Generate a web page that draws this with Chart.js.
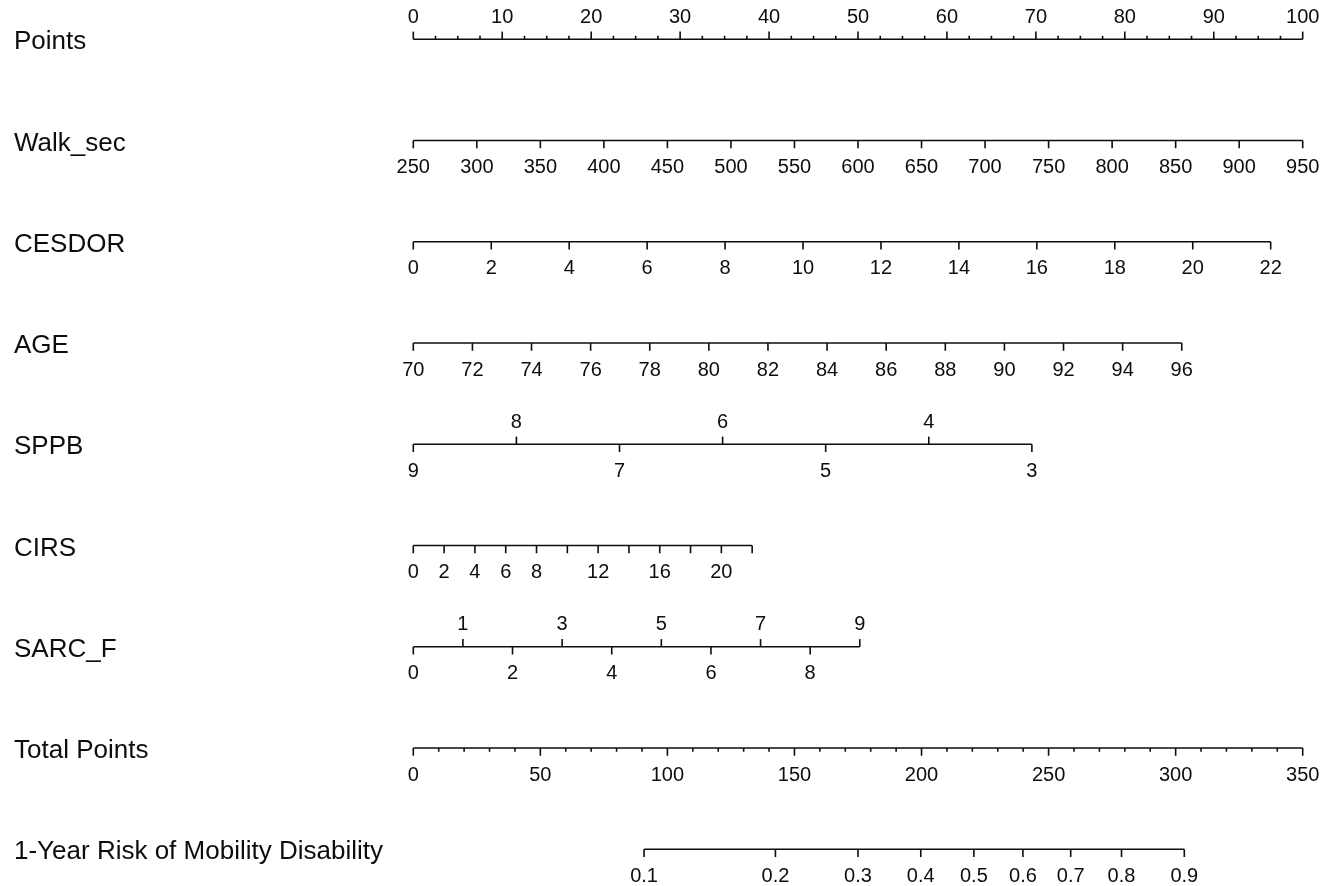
<!doctype html>
<html>
<head>
	<title>Nomogram: 1-Year Risk of Mobility Disability</title>
	<script src="https://cdn.jsdelivr.net/npm/chart.js@4"></script>
	<style>
		body { margin: 0; background: #fff; }
	</style>
</head>
<body>
	<canvas id="chart-area" width="1324" height="886"></canvas>

	<script>
		// row titles, top to bottom
		const rowNames = ['Points', 'Walk_sec', 'CESDOR', 'AGE', 'SPPB', 'CIRS', 'SARC_F', 'Total Points', '1-Year Risk of Mobility Disability'];

		// Points scale
		const pointsTicks = [0, 10, 20, 30, 40, 50, 60, 70, 80, 90, 100];

		// each predictor: tick values and the points at its first / last tick
		const walkSecTicks = [250, 300, 350, 400, 450, 500, 550, 600, 650, 700, 750, 800, 850, 900, 950];
		const walkSecPts = [0, 100];

		const cesdorTicks = [0, 2, 4, 6, 8, 10, 12, 14, 16, 18, 20, 22];
		const cesdorPts = [0, 96.4];

		const ageTicks = [70, 72, 74, 76, 78, 80, 82, 84, 86, 88, 90, 92, 94, 96];
		const agePts = [0, 86.4];

		const sppbTicks = [9, 8, 7, 6, 5, 4, 3];
		const sppbPts = [0, 69.55];

		const cirsTicks = [0, 2, 4, 6, 8, 10, 12, 14, 16, 18, 20, 22];
		const cirsLabels = ['0', '2', '4', '6', '8', '', '12', '', '16', '', '20', ''];
		const cirsPts = [0, 38.1];

		const sarcTicks = [0, 1, 2, 3, 4, 5, 6, 7, 8, 9];
		const sarcPts = [0, 50.2];

		// total points scale
		const totalTicks = [0, 50, 100, 150, 200, 250, 300, 350];
		const totalMax = 350;

		// risk ticks and where they sit on the total points scale
		const riskTicks = [0.1, 0.2, 0.3, 0.4, 0.5, 0.6, 0.7, 0.8, 0.9];
		const riskTotal = [90.8, 142.5, 175.0, 199.7, 220.6, 239.9, 258.7, 278.7, 303.4];

		const FONT = '"Liberation Sans", Arial, sans-serif';
		const INK = '#0d0d0d';

		function lin(v, v0, v1, p0, p1) {
			return p0 + (v - v0) / (v1 - v0) * (p1 - p0);
		}

		function scaleRow(ticks, pts, labels, sideFn) {
			const v0 = ticks[0], v1 = ticks[ticks.length - 1];
			return ticks.map((v, i) => ({
				p: lin(v, v0, v1, pts[0], pts[1]),
				label: labels ? labels[i] : String(v),
				side: sideFn ? sideFn(i) : 'down',
				len: 7.7
			}));
		}

		// build the rows (y index = row number)
		const rows = [];

		const pTicks = pointsTicks.map(v => ({ p: v, label: String(v), side: 'up', len: 7.7 }));
		for (let v = 2.5; v < 100; v += 2.5) {
			if (v % 10 !== 0) pTicks.push({ p: v, label: '', side: 'up', len: 3.5 });
		}
		rows.push(pTicks);
		rows.push(scaleRow(walkSecTicks, walkSecPts));
		rows.push(scaleRow(cesdorTicks, cesdorPts));
		rows.push(scaleRow(ageTicks, agePts));
		rows.push(scaleRow(sppbTicks, sppbPts, null, i => (i % 2 ? 'up' : 'down')));
		rows.push(scaleRow(cirsTicks, cirsPts, cirsLabels));
		rows.push(scaleRow(sarcTicks, sarcPts, null, i => (i % 2 ? 'up' : 'down')));

		const tTicks = totalTicks.map(v => ({ p: v / totalMax * 100, label: String(v), side: 'down', len: 7.7 }));
		for (let v = 10; v < totalMax; v += 10) {
			if (v % 50 !== 0) tTicks.push({ p: v / totalMax * 100, label: '', side: 'down', len: 3.7 });
		}
		rows.push(tTicks);
		rows.push(riskTicks.map((r, i) => ({ p: riskTotal[i] / totalMax * 100, label: String(r), side: 'down', len: 7.7 })));

		const datasets = rows.map((ticks, i) => {
			const ps = ticks.map(t => t.p);
			return {
				label: rowNames[i],
				data: [{ x: Math.min(...ps), y: i }, { x: Math.max(...ps), y: i }],
				showLine: true,
				borderColor: INK,
				borderWidth: 1.6,
				pointRadius: 0,
				clip: false
			};
		});

		const nomogramPlugin = {
			id: 'nomogram',
			afterDatasetsDraw(chart) {
				const ctx = chart.ctx;
				const xs = chart.scales.x, ys = chart.scales.y;
				ctx.save();
				ctx.strokeStyle = INK;
				ctx.fillStyle = INK;
				ctx.lineWidth = 1.6;
				rows.forEach((ticks, i) => {
					const y = ys.getPixelForValue(i);
					ticks.forEach(t => {
						const x = xs.getPixelForValue(t.p);
						const dir = t.side === 'up' ? -1 : 1;
						ctx.beginPath();
						ctx.moveTo(x, y);
						ctx.lineTo(x, y + dir * t.len);
						ctx.stroke();
						if (t.label) {
							ctx.font = '20px ' + FONT;
							ctx.textAlign = 'center';
							ctx.textBaseline = 'alphabetic';
							ctx.fillText(t.label, x, t.side === 'up' ? y - 16.5 : y + 32.5);
						}
					});
					ctx.font = '26px ' + FONT;
					ctx.textAlign = 'left';
					ctx.textBaseline = 'alphabetic';
					ctx.fillText(rowNames[i], 14, y + 10);
				});
				ctx.restore();
			}
		};

		const ctx2d = document.getElementById('chart-area').getContext('2d');
		window.nomogram = new Chart(ctx2d, {
			type: 'scatter',
			data: { datasets },
			options: {
				responsive: false,
				animation: false,
				devicePixelRatio: 1,
				layout: {
					padding: { left: 413.3, right: 21.3, top: 39.3, bottom: 36.7 }
				},
				scales: {
					x: { type: 'linear', min: 0, max: 100, display: false },
					y: { type: 'linear', min: 0, max: 8, reverse: true, display: false }
				},
				plugins: {
					legend: { display: false },
					tooltip: { enabled: false }
				}
			},
			plugins: [nomogramPlugin]
		});
	</script>
</body>
</html>
